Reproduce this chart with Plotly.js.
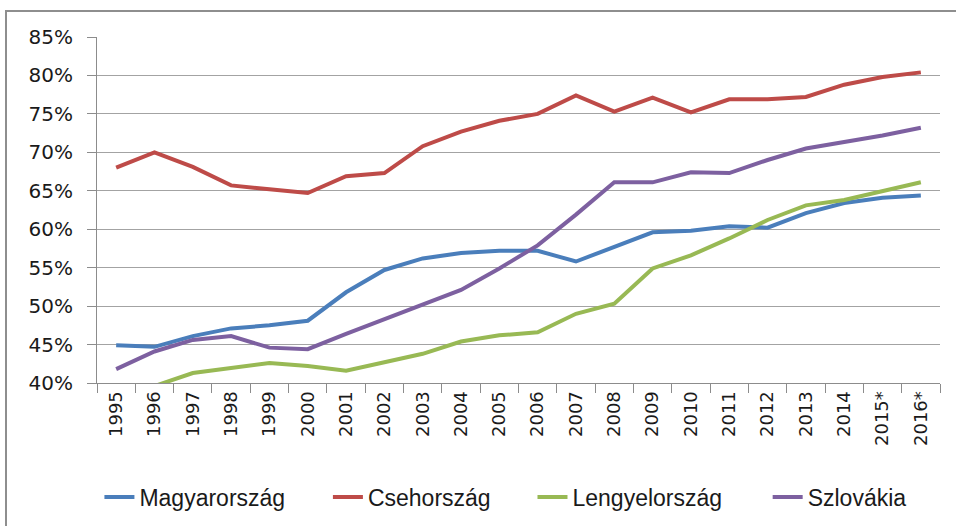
<!DOCTYPE html>
<html>
<head>
<meta charset="utf-8">
<script src="https://cdn.plot.ly/plotly-3.0.1.min.js"></script>
<style>
  html, body { margin: 0; padding: 0; background: #fff; overflow: hidden; }
  #wrap { position: relative; width: 956px; height: 526px; }
  #chart { position: absolute; left: 0; top: 0; width: 956px; height: 526px; }
  #frame { position: absolute; left: 5px; top: 10px; width: 1000px; height: 600px;
           border: 2px solid #8e8e8e; box-sizing: border-box; pointer-events: none; }
</style>
</head>
<body>
<div id="wrap">
  <div id="chart"></div>
  <div id="frame"></div>
</div>
<script>
// Categories (years)
const years = ["1995","1996","1997","1998","1999","2000","2001","2002","2003","2004","2005",
               "2006","2007","2008","2009","2010","2011","2012","2013","2014","2015*","2016*"];

// Series values (%)
const magyarorszag = [44.9, 44.7, 46.1, 47.1, 47.5, 48.1, 51.8, 54.7, 56.2, 56.9, 57.2,
                      57.2, 55.8, 57.7, 59.6, 59.8, 60.4, 60.2, 62.1, 63.4, 64.1, 64.4];
const csehorszag   = [68.0, 70.0, 68.1, 65.7, 65.2, 64.7, 66.9, 67.3, 70.8, 72.7, 74.1,
                      75.0, 77.4, 75.3, 77.1, 75.2, 76.9, 76.9, 77.2, 78.8, 79.8, 80.4];
const lengyelorszag = [39.3, 39.6, 41.3, 42.0, 42.6, 42.2, 41.6, 42.7, 43.8, 45.4, 46.2,
                       46.6, 49.0, 50.3, 54.9, 56.6, 58.8, 61.2, 63.1, 63.8, 65.0, 66.1];
const szlovakia    = [41.8, 44.1, 45.6, 46.1, 44.6, 44.4, 46.4, 48.3, 50.3, 52.1, 54.9,
                      57.9, 61.9, 66.1, 66.1, 67.4, 67.3, 69.0, 70.5, 71.3, 72.2, 73.2];

const seriesNames  = ["Magyarország", "Csehország", "Lengyelország", "Szlovákia"];
const seriesValues = [magyarorszag, csehorszag, lengyelorszag, szlovakia];
const seriesColors = ["#4A7EBB", "#BE4B48", "#98B954", "#7D60A0"];
const legendIds    = ["legend", "legend2", "legend3", "legend4"];
const legendX      = [0.104, 0.343, 0.557, 0.803];

const yTickVals = [40, 45, 50, 55, 60, 65, 70, 75, 80, 85];

const traces = seriesNames.map((name, i) => ({
  type: "scatter",
  mode: "lines",
  name: name,
  legend: legendIds[i],
  x: years,
  y: seriesValues[i],
  line: { color: seriesColors[i], width: 4, shape: "linear" },
  hoverinfo: "x+y+name"
}));

const axisGrey = "#8c8c8c";
const legendFont = { family: "Liberation Sans, Arial, sans-serif", size: 23, color: "#1a1a1a" };

const layout = {
  width: 956,
  height: 526,
  margin: { l: 97, r: 16, t: 37, b: 143, pad: 0, autoexpand: false },
  paper_bgcolor: "#ffffff",
  plot_bgcolor: "#ffffff",
  font: { family: "DejaVu Sans, Verdana, sans-serif", color: "#1a1a1a", size: 16 },
  showlegend: true,
  xaxis: {
    type: "category",
    range: [-0.5, years.length - 0.5],
    tickangle: -90,
    ticks: "outside",
    tickson: "boundaries",
    ticklen: 9,
    tickwidth: 1,
    tickcolor: axisGrey,
    showline: true,
    linecolor: axisGrey,
    linewidth: 1,
    showgrid: false,
    zeroline: false,
    automargin: false,
    tickfont: { family: "DejaVu Sans, Verdana, sans-serif", size: 18, color: "#1a1a1a" },
    fixedrange: true
  },
  yaxis: {
    range: [40, 85],
    tickvals: yTickVals,
    ticktext: yTickVals.map(v => v + "%"),
    ticks: "outside",
    ticklen: 9,
    tickwidth: 1,
    tickcolor: axisGrey,
    ticklabelstandoff: 10,
    showline: true,
    linecolor: axisGrey,
    linewidth: 1,
    showgrid: true,
    gridcolor: "#a3a3a3",
    gridwidth: 1,
    zeroline: false,
    automargin: false,
    tickfont: { family: "DejaVu Sans, Verdana, sans-serif", size: 20, color: "#1a1a1a" },
    fixedrange: true
  }
};

legendIds.forEach((id, i) => {
  layout[id] = {
    orientation: "h",
    xref: "container",
    yref: "container",
    x: legendX[i],
    xanchor: "left",
    y: 0.055,
    yanchor: "middle",
    font: legendFont,
    bgcolor: "rgba(0,0,0,0)"
  };
});

Plotly.newPlot("chart", traces, layout, { displayModeBar: false, staticPlot: true });
</script>
</body>
</html>
